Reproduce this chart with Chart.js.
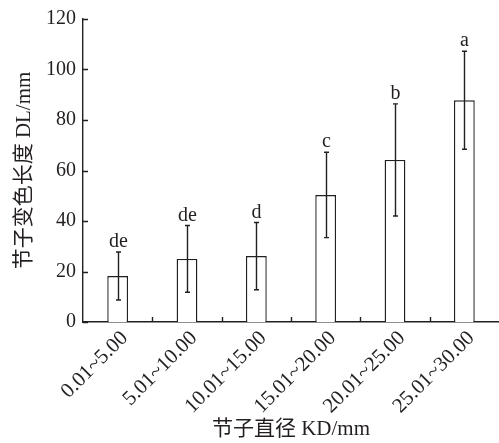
<!DOCTYPE html>
<html>
<head>
<meta charset="utf-8">
<script src="https://cdn.jsdelivr.net/npm/chart.js@4/dist/chart.umd.min.js"></script>
<style>
  html, body { margin: 0; padding: 0; background: #ffffff; }
  #wrap { width: 499px; height: 443px; }
</style>
</head>
<body>
<div id="wrap"><canvas id="c" width="499" height="443"></canvas></div>
<script>
// Discoloration length of knots by knot-diameter class (mean ± SD, with significance letters)
const categories = ['0.01~5.00', '5.01~10.00', '10.01~15.00', '15.01~20.00', '20.01~25.00', '25.01~30.00'];
const meanLength = [18.2, 25.0, 26.1, 50.3, 64.2, 87.8];
const errLength = [9.5, 13.2, 13.3, 16.9, 22.2, 19.4];
const groupLetters = ['de', 'de', 'd', 'c', 'b', 'a'];
const yTicks = [0, 20, 40, 60, 80, 100, 120];

const INK = '#231f20';
const FONT = '"Liberation Serif", "Times New Roman", "Noto Sans CJK SC", serif';

// whiskers with caps plus the letter above each bar
const errorBars = {
  id: 'errorBars',
  afterDatasetsDraw(chart) {
    const ctx = chart.ctx;
    const y = chart.scales.y;
    const bars = chart.getDatasetMeta(0).data;
    ctx.save();
    ctx.strokeStyle = INK;
    ctx.lineWidth = 1.4;
    ctx.fillStyle = INK;
    ctx.font = '20px ' + FONT;
    ctx.textAlign = 'center';
    ctx.textBaseline = 'alphabetic';
    bars.forEach((bar, i) => {
      const x = Math.round(bar.x) + 0.5;
      const top = y.getPixelForValue(meanLength[i] + errLength[i]);
      const bot = y.getPixelForValue(meanLength[i] - errLength[i]);
      const cap = 2.5;
      ctx.beginPath();
      ctx.moveTo(x, top); ctx.lineTo(x, bot);
      ctx.moveTo(x - cap, top); ctx.lineTo(x + cap, top);
      ctx.moveTo(x - cap, bot); ctx.lineTo(x + cap, bot);
      ctx.stroke();
      ctx.fillText(groupLetters[i], x, top - 5);
    });
    ctx.restore();
  }
};

// short tick marks pointing into the plot area
const innerTicks = {
  id: 'innerTicks',
  afterDraw(chart) {
    const ctx = chart.ctx;
    const xs = chart.scales.x, ys = chart.scales.y;
    const area = chart.chartArea;
    const len = 5;
    ctx.save();
    ctx.strokeStyle = INK;
    ctx.lineWidth = 1.4;
    ctx.beginPath();
    for (let i = 1; i < categories.length; i++) {
      const px = Math.round((xs.getPixelForTick(i - 1) + xs.getPixelForTick(i)) / 2) + 0.5;
      ctx.moveTo(px, area.bottom);
      ctx.lineTo(px, area.bottom - len);
    }
    yTicks.forEach(v => {
      const py = Math.round(ys.getPixelForValue(v)) + 0.5;
      ctx.moveTo(area.left, py);
      ctx.lineTo(area.left + len, py);
    });
    ctx.stroke();
    ctx.restore();
  }
};

new Chart(document.getElementById('c'), {
  type: 'bar',
  data: {
    labels: categories,
    datasets: [{
      data: meanLength,
      backgroundColor: '#ffffff',
      borderColor: INK,
      borderWidth: 1.4,
      borderSkipped: 'start',
      categoryPercentage: 1.0,
      barPercentage: 0.3
    }]
  },
  options: {
    responsive: false,
    animation: false,
    devicePixelRatio: 1,
    layout: { padding: { top: 19, right: 0, bottom: 0, left: 0 } },
    plugins: { legend: { display: false }, tooltip: { enabled: false } },
    scales: {
      x: {
        grid: { display: false, drawTicks: false },
        border: { display: true, color: INK, width: 1.4 },
        ticks: {
          color: INK,
          font: { family: FONT, size: 21 },
          minRotation: 45,
          maxRotation: 45,
          padding: 4,
          labelOffset: 7
        },
        title: {
          display: true,
          text: '节子直径 KD/mm',
          color: INK,
          font: { family: FONT, size: 21 },
          padding: { top: 0, bottom: 1 }
        },
        afterFit(scale) {
          scale.height = 121;
          scale.paddingLeft = 0;
          scale.paddingRight = 0;
        }
      },
      y: {
        min: 0,
        max: 120,
        grid: { display: false, drawTicks: false },
        border: { display: true, color: INK, width: 1.4 },
        ticks: {
          color: INK,
          font: { family: FONT, size: 20 },
          stepSize: 20,
          padding: 7
        },
        title: {
          display: true,
          text: '节子变色长度 DL/mm',
          color: INK,
          font: { family: FONT, size: 21 },
          padding: { top: 12, bottom: 0 }
        },
        afterFit(scale) {
          scale.width = 83;
          scale.paddingTop = 0;
          scale.paddingBottom = 0;
        }
      }
    }
  },
  plugins: [errorBars, innerTicks]
});
</script>
</body>
</html>
